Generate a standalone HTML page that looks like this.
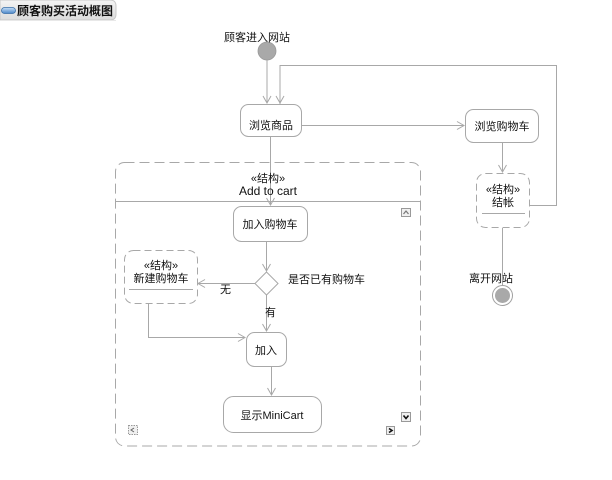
<!DOCTYPE html>
<html><head><meta charset="utf-8"><style>
html,body{margin:0;padding:0;background:#fff;}
svg{display:block;}
text{font-family:"Liberation Sans","Noto Sans CJK SC",sans-serif;fill:#111;}
</style></head><body>
<svg width="612" height="480" viewBox="0 0 612 480" xmlns="http://www.w3.org/2000/svg">
<defs>
<linearGradient id="tab" x1="0" y1="0" x2="0" y2="1">
<stop offset="0" stop-color="#f4f4f4"/><stop offset="1" stop-color="#dcdcdc"/>
</linearGradient>
<linearGradient id="pill" x1="0" y1="0" x2="0" y2="1">
<stop offset="0" stop-color="#c8e0f8"/><stop offset="1" stop-color="#4a86c8"/>
</linearGradient>
</defs>
<!-- title tab -->
<path d="M0 0 H110 Q116 0 116 6 V14 Q116 20 110 20 H0 Z" fill="url(#tab)" stroke="#c8c8c8"/>
<line x1="0" y1="20.5" x2="116" y2="20.5" stroke="#e8e8e8"/>
<rect x="1.5" y="7.5" width="14" height="6" rx="3" fill="url(#pill)" stroke="#3a6fa8" stroke-width="0.8"/>
<text x="17" y="15" font-size="12" font-weight="bold">顾客购买活动概图</text>

<g stroke="#a8a8a8" stroke-width="1" fill="none">
<!-- start -->
<line x1="267" y1="60" x2="267" y2="103"/>
<polyline points="263,96 267,103 271,96"/>
<polyline points="280,104 280,65.5 556.5,65.5 556.5,205.5 530,205.5"/>
<polyline points="276,96 280,103 284,96"/>
<!-- 浏览商品 to 浏览购物车 -->
<line x1="302" y1="125.5" x2="464" y2="125.5"/>
<polyline points="457,121.5 464,125.5 457,129.5"/>
<!-- 浏览购物车 down -->
<line x1="502.5" y1="142" x2="502.5" y2="172"/>
<polyline points="498.5,165 502.5,172 506.5,165"/>
<!-- 结帐 down to end -->
<line x1="502.5" y1="228" x2="502.5" y2="285"/>
<!-- 浏览商品 down to 加入购物车 -->
<line x1="270.5" y1="137" x2="270.5" y2="205"/>
<polyline points="266.5,198 270.5,205 274.5,198"/>
<!-- 加入购物车 to diamond -->
<line x1="266.5" y1="241" x2="266.5" y2="271"/>
<polyline points="262.5,264 266.5,271 270.5,264"/>
<!-- diamond left to 新建购物车 -->
<line x1="255" y1="283.5" x2="198" y2="283.5"/>
<polyline points="205,279.5 198,283.5 205,287.5"/>
<!-- diamond down to 加入 -->
<line x1="266.5" y1="295" x2="266.5" y2="331"/>
<polyline points="262.5,324 266.5,331 270.5,324"/>
<!-- 新建购物车 to 加入 -->
<polyline points="148.5,303 148.5,337.5 245,337.5"/>
<polyline points="238,333.5 245,337.5 238,341.5"/>
<!-- 加入 to MiniCart -->
<line x1="271.5" y1="366" x2="271.5" y2="395"/>
<polyline points="267.5,388 271.5,395 275.5,388"/>
</g>

<!-- start node -->
<circle cx="267" cy="51" r="9" fill="#a9a9a9" stroke="#999" stroke-width="0.8"/>
<text x="257" y="41" font-size="11" text-anchor="middle">顾客进入网站</text>

<!-- end node -->
<circle cx="502.5" cy="295.5" r="10" fill="#fff" stroke="#a0a0a0"/>
<circle cx="502.5" cy="295.5" r="7.5" fill="#a9a9a9"/>
<text x="491" y="282" font-size="11" text-anchor="middle">离开网站</text>

<!-- nodes -->
<g fill="#fff" stroke="#a8a8a8" stroke-width="1">
<rect x="240.5" y="104.5" width="61" height="32" rx="8"/>
<rect x="465.5" y="109.5" width="73" height="33" rx="8"/>
<rect x="233.5" y="206.5" width="74" height="35" rx="8"/>
<rect x="246.5" y="332.5" width="40" height="34" rx="8"/>
<rect x="223.5" y="396.5" width="98" height="36" rx="10"/>
<polygon points="266.5,272 278,283.5 266.5,295 255,283.5"/>
</g>
<g fill="#fff" stroke="#a8a8a8" stroke-width="1" stroke-dasharray="7,4">
<rect x="476.5" y="173.5" width="53" height="54" rx="9"/>
<rect x="124.5" y="250.5" width="73" height="53" rx="9"/>
</g>
<line x1="482" y1="213.5" x2="525" y2="213.5" stroke="#a8a8a8"/>
<line x1="129" y1="289.5" x2="193" y2="289.5" stroke="#a8a8a8"/>

<!-- big region -->
<rect x="115.5" y="162.5" width="305" height="283.5" rx="9" fill="none" stroke="#a8a8a8" stroke-dasharray="10,5"/>
<line x1="116" y1="201.5" x2="420" y2="201.5" stroke="#a8a8a8"/>
<text x="268" y="182" font-size="11" text-anchor="middle">«结构»</text>
<text x="268" y="195" font-size="12" text-anchor="middle">Add to cart</text>

<!-- labels -->
<text x="271" y="129" font-size="11" text-anchor="middle">浏览商品</text>
<text x="502" y="130" font-size="11" text-anchor="middle">浏览购物车</text>
<text x="503" y="193" font-size="11" text-anchor="middle">«结构»</text>
<text x="503" y="206" font-size="11" text-anchor="middle">结帐</text>
<text x="270" y="228" font-size="11" text-anchor="middle">加入购物车</text>
<text x="161" y="269" font-size="11" text-anchor="middle">«结构»</text>
<text x="161" y="282" font-size="11" text-anchor="middle">新建购物车</text>
<text x="288" y="283" font-size="11">是否已有购物车</text>
<text x="220" y="293" font-size="11">无</text>
<text x="265" y="316" font-size="11">有</text>
<text x="266" y="354" font-size="11" text-anchor="middle">加入</text>
<text x="272" y="419" font-size="11" text-anchor="middle">显示MiniCart</text>

<!-- small icons -->
<g>
<rect x="401.5" y="208.5" width="9" height="8" fill="#f0f0f0" stroke="#999"/>
<polyline points="403.5,214 406,211 408.5,214" fill="none" stroke="#777" stroke-width="1.2"/>
<rect x="401.5" y="412.5" width="9" height="9" fill="#f0f0f0" stroke="#999"/>
<polyline points="403.5,415.5 406,418.5 408.5,415.5" fill="none" stroke="#111" stroke-width="1.6"/>
<rect x="386.5" y="426.5" width="8" height="8" fill="#f0f0f0" stroke="#999"/>
<polyline points="389,428.5 392,430.5 389,432.5" fill="none" stroke="#111" stroke-width="1.6"/>
<rect x="128.5" y="425.5" width="9" height="9" fill="#f0f0f0" stroke="#999" stroke-dasharray="1.5,1"/>
<polyline points="134,428 131,430 134,432" fill="none" stroke="#666" stroke-width="1"/>
</g>
</svg>
</body></html>
